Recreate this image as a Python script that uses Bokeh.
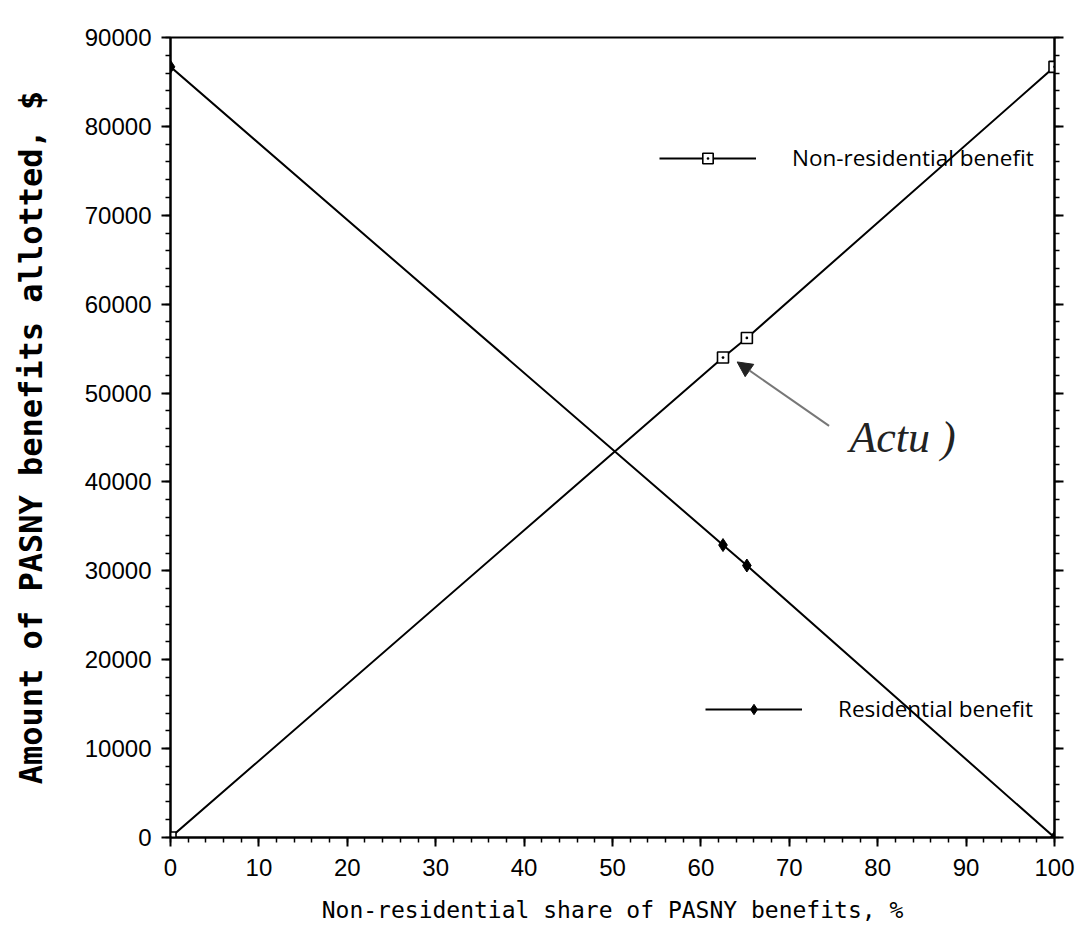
from bokeh.plotting import figure
from bokeh.models import (Range1d, SingleIntervalTicker, LinearAxis, Legend, LegendItem,
                          Arrow, NormalHead, Label, ColumnDataSource)
from bokeh.embed import file_html
from bokeh.resources import INLINE

# ---- data ----
share = [0, 62.5, 65.2, 100]            # Non-residential share of PASNY benefits, %
nonres = [0, 54000, 56200, 86700]        # Non-residential benefit, $
res = [86700, 32900, 30600, 0]           # Residential benefit, $

x_tick_step = 10
y_tick_step = 10000

src = ColumnDataSource(dict(share=share, nonres=nonres, res=res))

p = figure(width=1078, height=947, x_range=Range1d(0, 100), y_range=Range1d(0, 90000),
           output_backend="svg", toolbar_location=None,
           min_border_left=170, min_border_right=24, min_border_top=37, min_border_bottom=110,
           background_fill_color="white", border_fill_color="white")
p.grid.visible = False
p.outline_line_color = "black"
p.outline_line_width = 2

tick_font = "Liberation Sans"

def style_axis(ax):
    ax.axis_line_width = 2
    ax.axis_line_color = "black"
    ax.major_tick_line_width = 2
    ax.minor_tick_line_width = 1.5
    ax.major_tick_line_color = "black"
    ax.minor_tick_line_color = "black"
    ax.major_tick_in = 0
    ax.minor_tick_in = 0
    ax.major_tick_out = 9
    ax.minor_tick_out = 5
    ax.major_label_text_font = tick_font
    ax.major_label_text_font_size = "24px"
    ax.major_label_text_color = "black"

xax = p.xaxis[0]
xax.ticker = SingleIntervalTicker(interval=x_tick_step, num_minor_ticks=5)
style_axis(xax)
xax.major_label_standoff = 12
xax.axis_label = "Non-residential share of PASNY benefits, %"
xax.axis_label_text_font = "DejaVu Sans Mono"
xax.axis_label_text_font_size = "23px"
xax.axis_label_text_font_style = "normal"
xax.axis_label_text_color = "black"
xax.axis_label_standoff = 18

yax = p.yaxis[0]
yax.ticker = SingleIntervalTicker(interval=y_tick_step, num_minor_ticks=5)
style_axis(yax)
yax.major_label_standoff = 10
yax.axis_label = "Amount of PASNY benefits allotted, $"
yax.axis_label_text_font = "DejaVu Sans Mono"
yax.axis_label_text_font_size = "32px"
yax.axis_label_text_font_style = "bold"
yax.axis_label_text_color = "black"
yax.axis_label_standoff = 32

# right axis: ticks only
rax = LinearAxis(ticker=SingleIntervalTicker(interval=y_tick_step, num_minor_ticks=5))
style_axis(rax)
rax.major_label_overrides = {v: "" for v in range(0, 90001, y_tick_step)}
p.add_layout(rax, "right")

# ---- series ----
l_nr = p.line("share", "nonres", source=src, line_color="black", line_width=2)
m_nr = p.scatter("share", "nonres", source=src, marker="square_dot", size=11,
                 line_color="black", fill_color="white", line_width=1.6)
l_r = p.line("share", "res", source=src, line_color="black", line_width=2)
m_r = p.scatter("share", "res", source=src, marker="diamond", size=13,
                line_color="black", fill_color="black")

legend_common = dict(glyph_width=97, glyph_height=26, label_standoff=36, padding=0, margin=0,
                     border_line_color=None, background_fill_alpha=0,
                     label_text_font="Open Sans", label_text_font_size="22.5px",
                     label_text_color="black", label_height=26)
leg1 = Legend(items=[LegendItem(label="Non-residential benefit", renderers=[l_nr, m_nr])],
              location=(489, 664), **legend_common)
leg2 = Legend(items=[LegendItem(label="Residential benefit", renderers=[l_r, m_r])],
              location=(535, 113), **legend_common)
p.add_layout(leg1)
p.add_layout(leg2)

# ---- handwritten note ----
arrow = Arrow(end=NormalHead(size=15, fill_color="#222222", line_color="#222222"),
              x_start=74.5, y_start=46300, x_end=share[1] + 1.6, y_end=nonres[1] - 500,
              line_color="#777777", line_width=2)
p.add_layout(arrow)
note = Label(x=76.8, y=45000, text="Actu )", text_font="Liberation Serif",
             text_font_style="italic", text_font_size="44px", text_baseline="middle",
             text_color="#222222")
p.add_layout(note)

open("out.html", "w").write(file_html(p, INLINE))
